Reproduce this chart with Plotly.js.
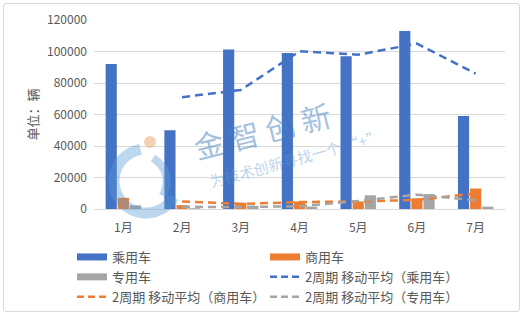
<!DOCTYPE html>
<html><head><meta charset="utf-8">
<script src="https://cdn.plot.ly/plotly-3.0.1.min.js"></script>
<style>
html,body{margin:0;padding:0;background:#fff;}
#chart{width:525px;height:318px;}
#frame{position:absolute;left:3px;top:3px;width:515px;height:307px;border:1px solid #d9d9d9;border-radius:3px;pointer-events:none;}
</style>
</head><body>
<div id="chart"></div><div id="frame"></div>
<script>
// ---- data ----
const months = ['1月','2月','3月','4月','5月','6月','7月'];
const passenger  = [92000, 50000, 101200, 99000, 97000, 113000, 59000];
const commercial = [7100, 2500, 4000, 4800, 4800, 6800, 13000];
const special    = [2300, 500, 2000, 1500, 8700, 9500, 1500];
const seriesNames = ['乘用车','商用车','专用车'];
const maNames = ['2周期 移动平均（乘用车）','2周期 移动平均（商用车）','2周期 移动平均（专用车）'];
const yTicks = [0,20000,40000,60000,80000,100000,120000];

// 2-period moving average (Excel trendline definition)
function ma2(arr){ return arr.map((v,i)=> i===0 ? null : (arr[i-1]+v)/2); }

const colors = ['#4472C4','#ED7D31','#A5A5A5'];
const series = [passenger, commercial, special];
const font = '"Noto Sans CJK SC","Noto Sans",sans-serif';

const traces = [];
series.forEach((s,i)=>{
  traces.push({type:'bar', x:months, y:s, name:seriesNames[i], marker:{color:colors[i]}, showlegend:false, hoverinfo:'skip'});
});
series.forEach((s,i)=>{
  traces.push({type:'scatter', mode:'lines', x:months, y:ma2(s), name:maNames[i],
    line:{color:colors[i], width:2.5, dash:'8px,5px'}, showlegend:false, hoverinfo:'skip', connectgaps:false});
});
// legend entries
series.forEach((s,i)=>{
  traces.push({type:'scatter', mode:'lines', x:[null], y:[null], name:seriesNames[i],
    line:{color:colors[i], width:7}, showlegend:true, hoverinfo:'skip'});
});
series.forEach((s,i)=>{
  traces.push({type:'scatter', mode:'lines', x:[null], y:[null], name:maNames[i],
    line:{color:colors[i], width:2.5, dash:'7px,4px'}, showlegend:true, hoverinfo:'skip'});
});

// decorative watermark (pixel -> paper helpers)
const M = {l:94, r:20, t:20, b:109, autoexpand:false};
const W = 525, H = 318;
const pw = W - M.l - M.r, ph = H - M.t - M.b;
const px = x => (x - M.l)/pw;
const py = y => (H - M.b - y)/ph;
function arcPath(cx, cy, r, a0, a1, n){
  let d = '';
  for(let k=0;k<=n;k++){
    const a = (a0 + (a1-a0)*k/n) * Math.PI/180;
    const X = px(cx + r*Math.cos(a)), Y = py(cy + r*Math.sin(a));
    d += (k===0?'M':'L') + X.toFixed(4) + ',' + Y.toFixed(4);
  }
  return d;
}

const shapes = [
  {type:'path', xref:'paper', yref:'paper', path:arcPath(146,181,32,-100,-330,40),
   line:{color:'rgba(91,155,213,0.40)', width:11}, layer:'above'},
  {type:'path', xref:'paper', yref:'paper',
   path:'M'+px(153)+','+py(158)+' Q'+px(174)+','+py(172)+' '+px(163)+','+py(196),
   line:{color:'rgba(91,155,213,0.40)', width:8}, layer:'above'},
  {type:'circle', xref:'paper', yref:'paper', x0:px(144), x1:px(156), y0:py(148), y1:py(136),
   fillcolor:'rgba(240,185,140,0.65)', line:{width:0}, layer:'above'}
];

const annotations = [
  {xref:'paper', yref:'paper', x:px(262), y:py(130), xanchor:'center', yanchor:'middle',
   text:'金 智 创 新', showarrow:false,
   textangle:-14, font:{family:font, size:30, color:'rgba(70,130,190,0.50)'}},
  {xref:'paper', yref:'paper', x:px(295), y:py(158), xanchor:'center', yanchor:'middle',
   text:'为技术创新寻找一个 “+”', showarrow:false,
   textangle:-15, font:{family:font, size:15, color:'rgba(100,155,210,0.45)'}}
];

const layout = {
  width:W, height:H, margin:M,
  paper_bgcolor:'#ffffff', plot_bgcolor:'#ffffff',
  font:{family:font, size:12, color:'#595959'},
  barmode:'group', bargap:0.38, bargroupgap:0.08,
  xaxis:{type:'category', showgrid:false, showline:true, linecolor:'#d9d9d9', linewidth:1,
    ticks:'', tickfont:{size:12, color:'#595959'}, ticklabelstandoff:8, fixedrange:true, automargin:false},
  yaxis:{range:[0,120000], tickvals:yTicks, ticktext:yTicks.map(String), showgrid:true, gridcolor:'#d9d9d9',
    gridwidth:1, zeroline:false, showline:false, ticks:'', tickfont:{size:12, color:'#595959'},
    ticklabelstandoff:6, automargin:true,
    title:{text:'单位：辆', font:{size:13, color:'#595959'}, standoff:5}},
  legend:{orientation:'h', x:px(72), y:py(242), xanchor:'left', yanchor:'top',
    entrywidth:148, entrywidthmode:'pixels', font:{size:13, color:'#595959'},
    bgcolor:'rgba(0,0,0,0)', traceorder:'normal'},
  shapes:shapes, annotations:annotations, showlegend:true
};

Plotly.newPlot('chart', traces, layout, {staticPlot:true, displayModeBar:false});
</script>
</body></html>
